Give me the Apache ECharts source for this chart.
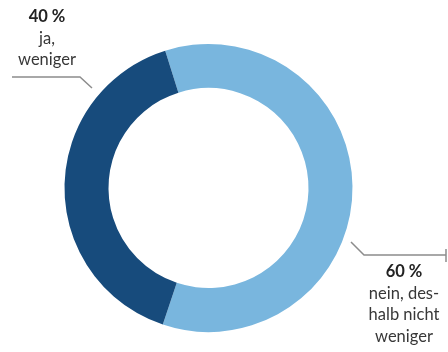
<!DOCTYPE html>
<html><head><meta charset="utf-8">
<script src="https://cdn.jsdelivr.net/npm/echarts@6/dist/echarts.min.js"></script>
<style>html,body{margin:0;padding:0;background:#fff}#c{width:448px;height:352px}</style>
</head><body><div id="c"></div>
<script>
const categories = ['nein, des-\nhalb nicht\nweniger', 'ja,\nweniger'];
const values = [60, 40];
const pctLabels = ['60 %', '40 %'];
const colors = ['#79b6de', '#174b7c'];

const chart = echarts.init(document.getElementById('c'), null, {renderer: 'canvas'});
const lay = [
  {x: 404, y: 261, pts: [[351, 242], [364, 255], [446, 255]]},
  {x: 47, y: 6, pts: [[92, 88], [80, 77], [12, 77]]}
];
chart.setOption({
  animation: false,
  series: [{
    type: 'pie',
    center: [208.5, 188],
    radius: [100, 144],
    startAngle: 107.5,
    clockwise: true,
    silent: true,
    avoidLabelOverlap: false,
    data: values.map((v, i) => ({
      value: v,
      name: categories[i],
      itemStyle: {color: colors[i]},
      label: {formatter: '{b|' + pctLabels[i] + '}\n' + categories[i]}
    })),
    label: {
      show: true,
      position: 'outside',
      alignTo: 'none',
      overflow: 'none',
      width: 120,
      fontFamily: 'Lato',
      fontSize: 16.5,
      color: '#383838',
      lineHeight: 21.5,
      align: 'center',
      rich: {b: {fontWeight: 'bold', fontSize: 16.5, fontFamily: 'Lato', color: '#222', lineHeight: 21.5, align: 'center'}}
    },
    labelLine: {show: true, lineStyle: {color: '#8c8c8c', width: 1.5}},
    labelLayout: function (p) {
      const l = lay[p.dataIndex];
      return {x: l.x, y: l.y, align: 'center', verticalAlign: 'top', hideOverlap: false, labelLinePoints: l.pts};
    }
  }],
  graphic: [{
    type: 'line', shape: {x1: 446, y1: 249, x2: 446, y2: 262},
    style: {stroke: '#8c8c8c', lineWidth: 1.5}
  }]
});
</script></body></html>
